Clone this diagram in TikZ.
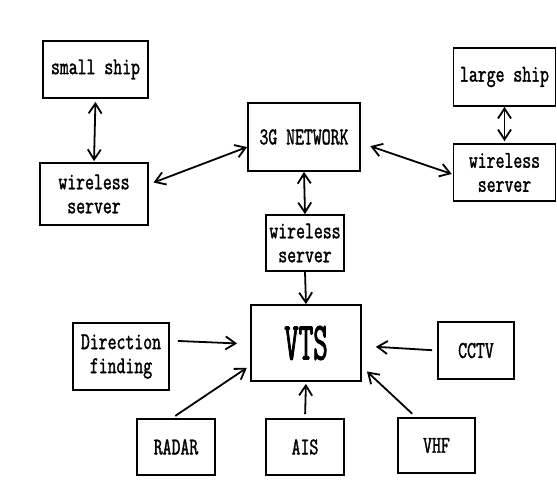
\documentclass[tikz,border=0pt]{standalone}
\usepackage{fontspec}
\setmainfont{Latin Modern Mono}[FakeStretch=0.72,FakeBold=1.5]
\newfontfamily\vtsfont{Latin Modern Mono}[FakeStretch=0.52,FakeBold=1.5]
\usetikzlibrary{arrows.meta}
\begin{document}
\begin{tikzpicture}[x=1pt,y=-1pt,
  box/.style={draw,line width=1.7pt,inner sep=0pt,align=center,
    font=\fontsize{24}{24}\selectfont},
  conn/.style={line width=1.8pt,{Straight Barb[length=10pt,width=13pt]}-{Straight Barb[length=10pt,width=13pt]}},
  oneway/.style={line width=1.8pt,-{Straight Barb[length=10pt,width=13pt]}}]
\useasboundingbox[fill=white] (0,0) rectangle (557,485);
\node[box,minimum width=105pt,minimum height=57pt] (ss) at (95.5,69.5) {small ship};
\node[box,minimum width=108pt,minimum height=62pt] (ws1) at (94,194) {wireless\\server};
\node[box,minimum width=112pt,minimum height=68pt] (g3) at (304,137) {3G NETWORK};
\node[box,minimum width=102pt,minimum height=58pt] (ls) at (504.5,77) {large ship};
\node[box,minimum width=102pt,minimum height=57pt] (ws3) at (504.5,172.5) {wireless\\server};
\node[box,minimum width=78pt,minimum height=56pt] (ws2) at (305,243) {wireless\\server};
\node[box,minimum width=110pt,minimum height=76pt,font=\vtsfont\fontsize{54}{54}\selectfont] (vts) at (306,343) {VTS};
\node[box,minimum width=96pt,minimum height=67pt] (df) at (121,356.5) {Direction\\finding};
\node[box,minimum width=76pt,minimum height=57pt] (cctv) at (476,350.5) {CCTV};
\node[box,minimum width=78pt,minimum height=56pt] (radar) at (176,447) {RADAR};
\node[box,minimum width=78pt,minimum height=56pt] (ais) at (305,447) {AIS};
\node[box,minimum width=77pt,minimum height=55pt] (vhf) at (436.5,445.5) {VHF};
% connectors
\draw[conn,shorten <=3pt,shorten >=1pt] (ss.south) -- (ws1.north);
\draw[conn,shorten <=5pt] (ws1.10) -- (g3.190);
\draw[conn,shorten <=10pt,shorten >=1pt] (g3.-6) -- (ws3.182);
\draw[conn,shorten >=2pt,shorten <=0pt] (ls.south) -- (ws3.north);
\draw[conn] (g3.south) -- (ws2.north);
\draw[oneway] (ws2.south) -- (vts.north);
\draw[oneway,shorten <=8pt,shorten >=13pt] (df.18) -- (vts.181);
\draw[oneway,shorten <=5pt,shorten >=14pt] (cctv.west) -- (vts.-3);
\draw[oneway,shorten <=4pt,shorten >=4pt] (radar.98) -- (vts.202);
\draw[oneway,shorten <=4pt,shorten >=2pt] (ais.north) -- (vts.south);
\draw[oneway,shorten <=5pt,shorten >=7pt] (vhf.126) -- (vts.-23.5);
\end{tikzpicture}
\end{document}
